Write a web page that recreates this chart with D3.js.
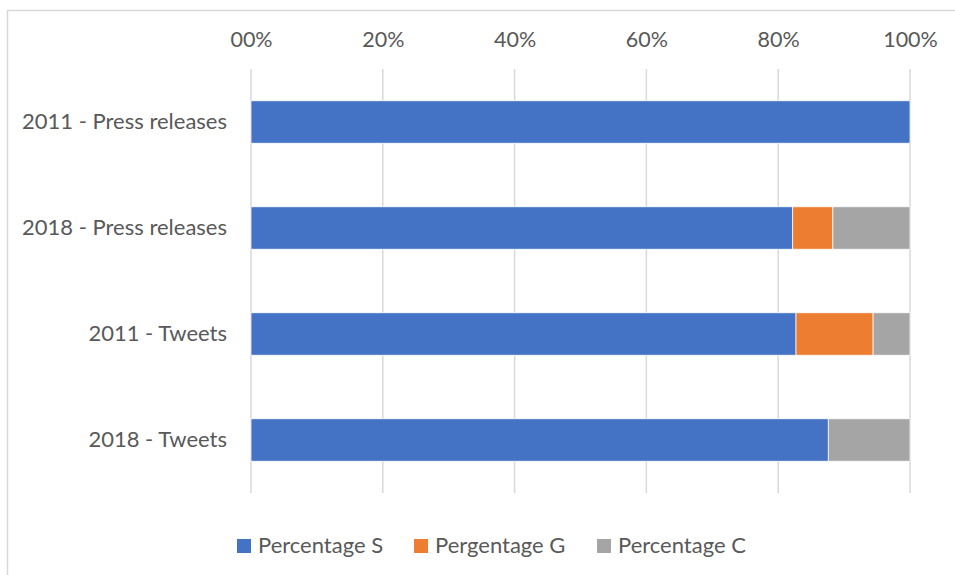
<!DOCTYPE html>
<html>
<head>
<meta charset="utf-8">
<script src="https://cdn.jsdelivr.net/npm/d3@7"></script>
<style>
  html, body { margin: 0; padding: 0; background: #fff; }
  svg { display: block; font-family: Lato, "Open Sans", sans-serif; }
</style>
</head>
<body>
<svg id="chart" width="955" height="575"></svg>
<script>
// Categories, top to bottom
const categories = ["2011 - Press releases", "2018 - Press releases", "2011 - Tweets", "2018 - Tweets"];
// Share of each category, in percent
const percentageS = [100, 82.2, 82.7, 87.6];
const percentageG = [0, 6.1, 11.7, 0];
const percentageC = [0, 11.7, 5.6, 12.4];
const seriesNames = ["Percentage S", "Pergentage G", "Percentage C"];
const seriesColors = ["#4472C4", "#ED7D31", "#A5A5A5"];
const tickValues = [0, 20, 40, 60, 80, 100];
const tickLabels = ["00%", "20%", "40%", "60%", "80%", "100%"];

const svg = d3.select("#chart");
const textColor = "#595959";

// Outer frame
svg.append("rect")
  .attr("x", 7.5).attr("y", 10.5)
  .attr("width", 1000).attr("height", 600)
  .attr("fill", "none").attr("stroke", "#d9d9d9").attr("stroke-width", 1.5);

const x = d3.scaleLinear().domain([0, 100]).range([251, 910]);
const y = d3.scaleBand().domain(categories).range([69, 493])
  .paddingInner(0.6).paddingOuter(0.3);

// Gridlines
svg.append("g").selectAll("line").data(tickValues).join("line")
  .attr("x1", d => x(d)).attr("x2", d => x(d))
  .attr("y1", 69).attr("y2", 493)
  .attr("stroke", "#d9d9d9").attr("stroke-width", 1.5);

// Top axis labels
const xAxis = d3.axisTop(x).tickValues(tickValues)
  .tickFormat((d, i) => tickLabels[i]).tickSize(0).tickPadding(0);
const gx = svg.append("g").attr("transform", "translate(0,47)").call(xAxis);
gx.select(".domain").remove();
gx.selectAll("text").attr("fill", textColor).attr("font-size", 21.5)
  .attr("font-family", "Lato, 'Open Sans', sans-serif");

// Category labels
const yAxis = d3.axisLeft(y).tickSize(0).tickPadding(0);
const gy = svg.append("g").attr("transform", "translate(227,0)").call(yAxis);
gy.select(".domain").remove();
gy.selectAll("text").attr("fill", textColor).attr("font-size", 22)
  .attr("dy", "0.3em")
  .attr("font-family", "Lato, 'Open Sans', sans-serif");

// Stacked bars
const rows = categories.map((c, i) => ({
  category: c, s: percentageS[i], g: percentageG[i], c: percentageC[i]
}));
const stack = d3.stack().keys(["s", "g", "c"]);
const layers = stack(rows);

svg.append("g").selectAll("g").data(layers).join("g")
  .attr("fill", (d, i) => seriesColors[i])
  .selectAll("rect").data(d => d.filter(p => p[1] - p[0] > 0)).join("rect")
  .attr("x", d => x(d[0]))
  .attr("width", d => x(d[1]) - x(d[0]))
  .attr("y", d => y(d.data.category))
  .attr("height", y.bandwidth())
  .attr("stroke", "#ffffff").attr("stroke-width", 0.75);

// Legend
const legendX = [237, 414, 597];
const legend = svg.append("g").selectAll("g").data(seriesNames).join("g")
  .attr("transform", (d, i) => `translate(${legendX[i]},539)`);
legend.append("rect")
  .attr("width", 14).attr("height", 14)
  .attr("fill", (d, i) => seriesColors[i]);
legend.append("text")
  .attr("x", 21).attr("y", 14)
  .attr("fill", textColor).attr("font-size", 22)
  .text(d => d);
</script>
</body>
</html>
